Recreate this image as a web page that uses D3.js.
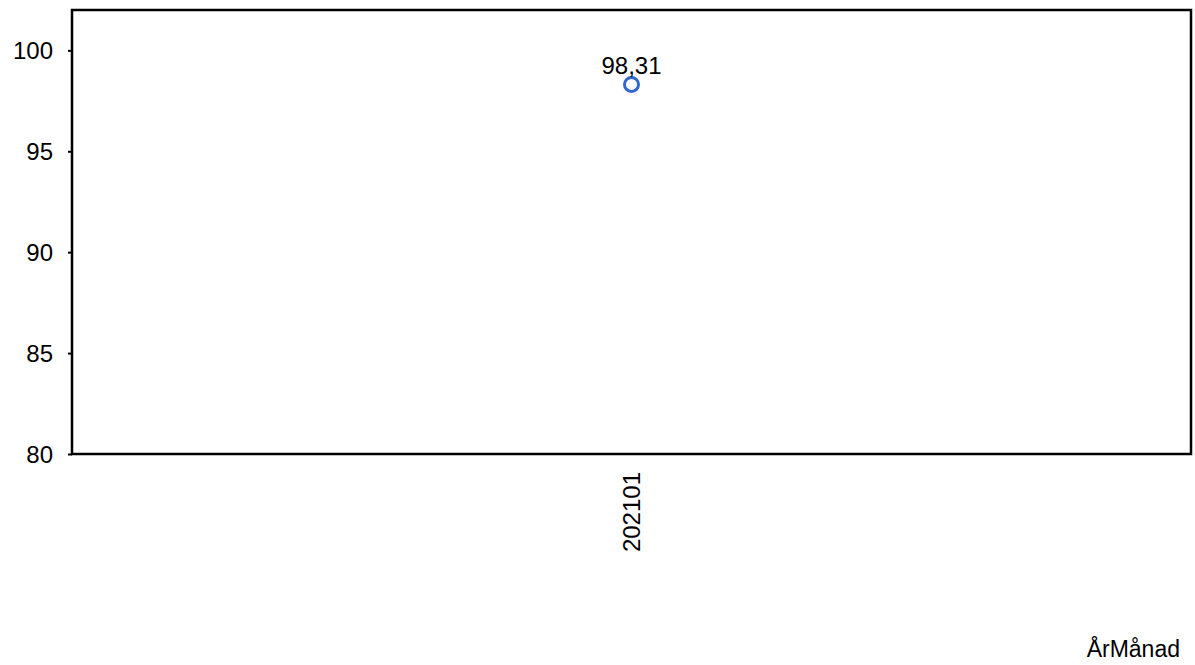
<!DOCTYPE html>
<html>
<head>
<meta charset="utf-8">
<script src="https://cdn.jsdelivr.net/npm/d3@7"></script>
<style>
  body { margin: 0; background: #fff; }
  svg text { font-family: "Liberation Sans", Arial, sans-serif; fill: #000; }
</style>
</head>
<body>
<div></div>
<script>
const categories = ["202101"];
const values = [98.31];
const yTicks = [80, 85, 90, 95, 100];
const xTitle = "ÅrMånad";

const svg = d3.select("div").append("svg")
  .attr("width", 1195)
  .attr("height", 665);

const margin = {top: 10, right: 4, bottom: 211, left: 72};
const width = 1195 - margin.left - margin.right;
const height = 665 - margin.top - margin.bottom;

const x = d3.scaleBand().domain(categories).range([0, width]);
const y = d3.scaleLinear().domain([80, 102]).range([height, 0]);

const g = svg.append("g")
  .attr("transform", "translate(" + margin.left + "," + margin.top + ")");

// y axis
const yAxis = g.append("g")
  .call(d3.axisLeft(y).tickValues(yTicks).tickSize(4).tickPadding(15).tickFormat(d3.format("d")));
yAxis.select(".domain").remove();
yAxis.selectAll("line").attr("stroke", "#000").attr("stroke-width", 2);
yAxis.selectAll("text").style("font-size", "24px").attr("dy", "0.35em");

// x axis
const xAxis = g.append("g")
  .attr("transform", "translate(0," + height + ")")
  .call(d3.axisBottom(x).tickSize(0));
xAxis.select(".domain").remove();
xAxis.selectAll("text")
  .style("font-size", "24px")
  .attr("text-anchor", "end")
  .attr("transform", "rotate(-90)")
  .attr("x", -18)
  .attr("y", 0)
  .attr("dy", "0.35em");

// frame
g.append("rect")
  .attr("width", width)
  .attr("height", height)
  .attr("fill", "none")
  .attr("stroke", "#000")
  .attr("stroke-width", 2.5);

// points
g.selectAll("circle.pt")
  .data(values)
  .join("circle")
  .attr("class", "pt")
  .attr("cx", (d, i) => x(categories[i]) + x.bandwidth() / 2)
  .attr("cy", d => y(d))
  .attr("r", 7)
  .attr("fill", "#fff")
  .attr("stroke", "#3366cc")
  .attr("stroke-width", 3);

g.selectAll("text.lbl")
  .data(values)
  .join("text")
  .attr("class", "lbl")
  .attr("x", (d, i) => x(categories[i]) + x.bandwidth() / 2)
  .attr("y", d => y(d) - 10)
  .attr("text-anchor", "middle")
  .style("font-size", "24px")
  .text(d => d3.format(".2f")(d).replace(".", ","));

// x title
svg.append("text")
  .attr("x", 1180)
  .attr("y", 657)
  .attr("text-anchor", "end")
  .style("font-size", "23px")
  .text(xTitle);
</script>
</body>
</html>
